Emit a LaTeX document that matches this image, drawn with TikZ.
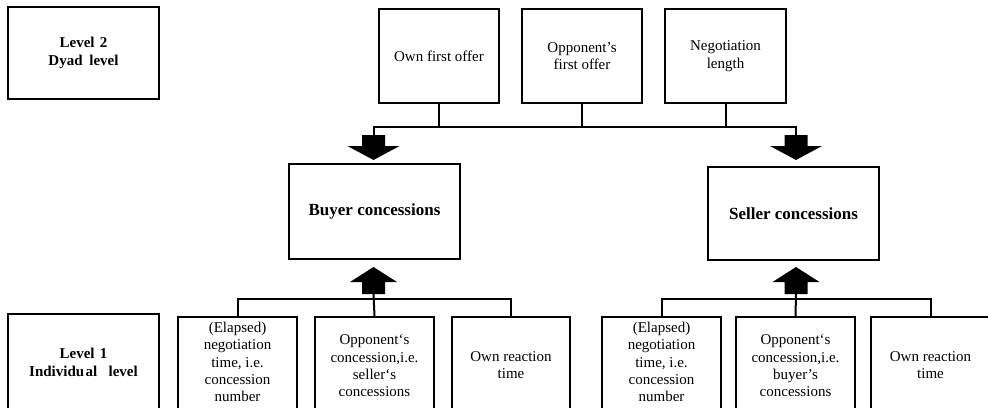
\documentclass[tikz,border=0pt]{standalone}
\usepackage{fontspec}
\setmainfont{Liberation Serif}
\begin{document}
\begin{tikzpicture}[x=1pt,y=-1pt,
  box/.style={draw=black,line width=2pt,align=center,inner sep=0pt,
    font=\fontsize{15}{17.5}\selectfont},
  topbox/.style={box,minimum width=120pt,minimum height=94pt},
  lowbox/.style={box,minimum width=119pt,minimum height=96pt,
    font=\fontsize{15}{17.5}\selectfont},
  lvlbox/.style={box,minimum width=151pt,minimum height=92pt,
    font=\fontsize{15}{18}\selectfont\bfseries},
  conbox/.style={box,minimum width=171pt,minimum height=94pt,
    font=\fontsize{17}{19}\selectfont\bfseries},
  conn/.style={draw=black,line width=2pt},
  downarr/.pic={\fill[black] (-11.5,0) -- (11.5,0) -- (11.5,11) -- (26,11) -- (0,25) -- (-26,11) -- (-11.5,11) -- cycle;},
  uparr/.pic={\fill[black] (-11.5,0) -- (11.5,0) -- (11.5,-12) -- (23.5,-12) -- (0,-27) -- (-23.5,-12) -- (-11.5,-12) -- cycle;}
]
\path[use as bounding box] (0,0) rectangle (988,407);
\clip (0,0) rectangle (988,407);

% level boxes
\node[lvlbox] (lvl2) at (83.5,53) {Level\hspace{0.1em} 2\\Dyad\hspace{0.2em} level};
\node[lvlbox,minimum height=96pt] (lvl1) at (83.5,362) {Level\hspace{0.1em} 1\\Individu\hspace{0.1em}al\hspace{0.5em} level};

% top boxes
\node[topbox] (own) at (439,56) {Own first offer};
\node[topbox] (opp) at (582,56) {Opponent’s\\first offer};
\node[topbox,minimum width=121pt] (neg) at (725.5,56) {Negotiation\\length};

% concession boxes
\node[conbox,minimum height=95pt] (buyer) at (374.5,211.5) {Buyer concessions};
\node[conbox,minimum height=93pt] (seller) at (793.5,213.5) {Seller concessions};

% bottom boxes buyer
\node[lowbox] (be) at (237.5,365) {};
\node[lowbox] (bo) at (374.5,365) {};
\node[lowbox,minimum width=118pt] (br) at (511,365) {};
% bottom boxes seller
\node[lowbox] (se) at (661.5,365) {};
\node[lowbox] (so) at (795.5,365) {};
\node[lowbox] (sr) at (930.5,365) {};

% texts of the bottom boxes
\tikzset{lowtext/.style={align=center,inner sep=0pt,font=\fontsize{15}{17.3}\selectfont}}
\node[lowtext,anchor=north] (bet) at ([yshift=-6pt]be.north) {(Elapsed)\\negotiation\\time, i.e.\\concession\\number};
\node[lowtext] (bot) at ([yshift=-1pt]bo.center) {Opponent‘s\\concession,i.e.\\seller‘s\\concessions};
\node[lowtext] (brt) at (br.center) {Own reaction\\time};
\node[lowtext,anchor=north] (set) at ([yshift=-6pt]se.north) {(Elapsed)\\negotiation\\time, i.e.\\concession\\number};
\node[lowtext] (sot) at ([yshift=-1pt]so.center) {Opponent‘s\\concession,i.e.\\buyer’s\\concessions};
\node[lowtext] (srt) at (sr.center) {Own reaction\\time};

% top connector bar
\coordinate (tbL) at (373.5,127);
\coordinate (tbR) at (796,127);
\coordinate (taL) at (373.5,135);
\coordinate (taR) at (796,135);
\draw[conn] (own.south) -- (own.south |- tbL);
\draw[conn] (opp.south) -- (opp.south |- tbL);
\draw[conn] (neg.south) -- (neg.south |- tbL);
\draw[conn] (taL) -- (tbL) -- (tbR) -- (taR);
\pic at (taL) {downarr};
\pic at (taR) {downarr};

% bottom connector bars
\coordinate (bbar) at (0,299);
\coordinate (baB) at (373.5,294);
\coordinate (baS) at (796,294);
\draw[conn] (be.north) -- (be.north |- bbar) -- (br.north |- bbar) -- (br.north);
\draw[conn] (bo.north) -- (baB);
\pic at (baB) {uparr};
\draw[conn] (se.north) -- (se.north |- bbar) -- (sr.north |- bbar) -- (sr.north);
\draw[conn] (so.north) -- (baS);
\pic at (baS) {uparr};
\end{tikzpicture}
\end{document}
